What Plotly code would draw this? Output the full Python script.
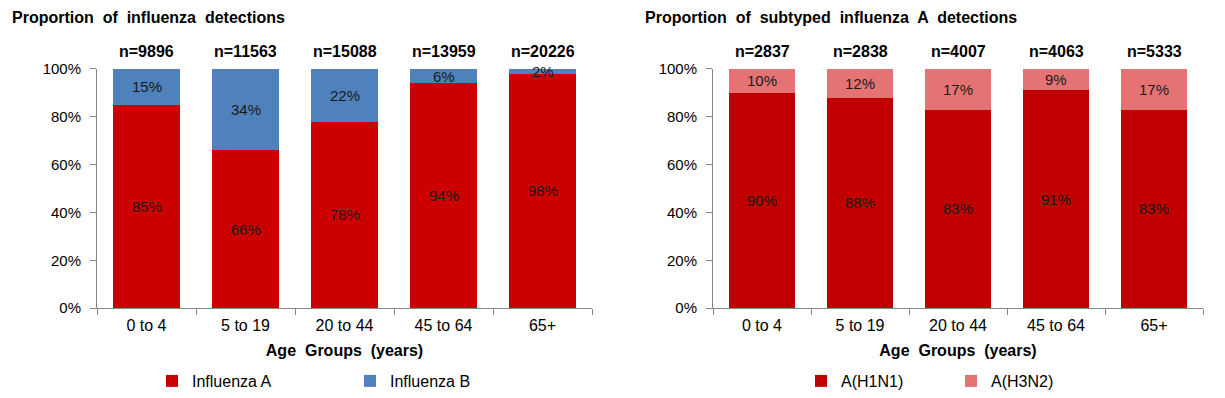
import plotly.graph_objects as go

W, H = 1225, 398

categories = ["0 to 4", "5 to 19", "20 to 44", "45 to 64", "65+"]

# Left chart: proportion of influenza detections
flu_a = [85, 66, 78, 94, 98]
flu_b = [15, 34, 22, 6, 2]
n_left = [9896, 11563, 15088, 13959, 20226]

# Right chart: proportion of subtyped influenza A detections
h1n1 = [90, 88, 83, 91, 83]
h3n2 = [10, 12, 17, 9, 17]
n_right = [2837, 2838, 4007, 4063, 5333]

C_A = "#CC0000"
C_B = "#4F81BD"
C_H1 = "#C00000"
C_H3 = "#E57373"

FONT = "Liberation Sans, Arial, sans-serif"
AXC = "#868686"

# the page is photographed with the figure drawn 382 px tall, 8 px from the top
TOP, HEFF = 8, 382


def px(x):
    return x / W


def py(y):
    return 1 - (y - TOP) / HEFF


fig = go.Figure()

fig.add_trace(go.Bar(x=categories, y=[v / 100 for v in flu_a], name="Influenza A",
                     marker=dict(color=C_A, line=dict(width=0)), xaxis="x", yaxis="y",
                     legend="legend", hoverinfo="skip"))
fig.add_trace(go.Bar(x=categories, y=[v / 100 for v in flu_b], name="Influenza B",
                     marker=dict(color=C_B, line=dict(width=0)), xaxis="x", yaxis="y",
                     legend="legend", hoverinfo="skip"))
fig.add_trace(go.Bar(x=categories, y=[v / 100 for v in h1n1], name="A(H1N1)",
                     marker=dict(color=C_H1, line=dict(width=0)), xaxis="x2", yaxis="y2",
                     legend="legend2", hoverinfo="skip"))
fig.add_trace(go.Bar(x=categories, y=[v / 100 for v in h3n2], name="A(H3N2)",
                     marker=dict(color=C_H3, line=dict(width=0)), xaxis="x2", yaxis="y2",
                     legend="legend2", hoverinfo="skip"))

annotations = []


def seg_labels(lower, upper, xref, yref):
    for c, lo, up in zip(categories, lower, upper):
        annotations.append(dict(x=c, y=lo / 200, xref=xref, yref=yref, text=f"{lo}%",
                                showarrow=False, font=dict(family=FONT, size=15, color="#1a1a1a")))
        annotations.append(dict(x=c, y=(lo + up / 2) / 100, xref=xref, yref=yref, text=f"{up}%",
                                showarrow=False, font=dict(family=FONT, size=15, color="#1a1a1a")))


def n_labels(ns, xref, yref):
    for c, n in zip(categories, ns):
        annotations.append(dict(x=c, y=1, xref=xref, yref=yref, text=f"<b>n={n}</b>",
                                showarrow=False, yanchor="bottom", yshift=7,
                                font=dict(family=FONT, size=16, color="black")))


seg_labels(flu_a, flu_b, "x", "y")
seg_labels(h1n1, h3n2, "x2", "y2")
n_labels(n_left, "x", "y")
n_labels(n_right, "x2", "y2")

annotations.append(dict(x=px(10), y=py(17), xref="paper", yref="paper", xanchor="left",
                        yanchor="middle", showarrow=False,
                        text="<b>Proportion  of  influenza  detections</b>",
                        font=dict(family=FONT, size=16, color="black")))
annotations.append(dict(x=px(643), y=py(17), xref="paper", yref="paper", xanchor="left",
                        yanchor="middle", showarrow=False,
                        text="<b>Proportion  of  subtyped  influenza  A  detections</b>",
                        font=dict(family=FONT, size=16, color="black")))

ydom = [py(308), py(68)]

common_x = dict(type="category", showline=True, linecolor=AXC, linewidth=1,
                ticks="outside", ticklen=6, tickcolor=AXC, tickson="boundaries",
                ticklabelstandoff=3,
                tickfont=dict(family=FONT, size=16, color="black"),
                title=dict(text="<b>Age  Groups  (years)</b>", standoff=11,
                           font=dict(family=FONT, size=16, color="black")),
                fixedrange=True)
common_y = dict(range=[0, 1], tickvals=[0, 0.2, 0.4, 0.6, 0.8, 1.0], tickformat=".0%",
                showline=True, linecolor=AXC, linewidth=1, ticks="outside", ticklen=6,
                tickcolor=AXC, showgrid=False, zeroline=False, ticklabelstandoff=6,
                tickfont=dict(family=FONT, size=15, color="black"), domain=ydom,
                fixedrange=True)

fig.update_layout(
    width=W, height=H,
    margin=dict(l=0, r=0, t=0, b=0),
    paper_bgcolor="white", plot_bgcolor="white",
    barmode="stack", bargap=0.33,
    xaxis=dict(domain=[px(97), px(592)], anchor="y", **common_x),
    yaxis=dict(anchor="x", **common_y),
    xaxis2=dict(domain=[px(713), px(1203)], anchor="y2", **common_x),
    yaxis2=dict(anchor="x2", **common_y),
    annotations=annotations,
    legend=dict(orientation="h", x=px(152), y=py(381), xanchor="left", yanchor="middle",
                entrywidth=153, entrywidthmode="pixels", itemwidth=30,
                font=dict(family=FONT, size=16, color="black"), bgcolor="rgba(0,0,0,0)",
                traceorder="normal"),
    legend2=dict(orientation="h", x=px(801), y=py(381), xanchor="left", yanchor="middle",
                 entrywidth=105, entrywidthmode="pixels", itemwidth=30,
                 font=dict(family=FONT, size=16, color="black"), bgcolor="rgba(0,0,0,0)",
                 traceorder="normal"),
    showlegend=True,
)

post = """
document.documentElement.style.margin='0';
document.documentElement.style.overflow='hidden';
document.body.style.margin='0';
document.body.style.padding='0';
document.body.style.overflow='hidden';
var gds = document.getElementsByClassName('plotly-graph-div');
for (var i = 0; i < gds.length; i++) {
  gds[i].style.position='fixed'; gds[i].style.top='0px'; gds[i].style.left='0px';
}
"""

fig.write_html("out.html", config={"displayModeBar": False, "staticPlot": True},
               post_script=post)
